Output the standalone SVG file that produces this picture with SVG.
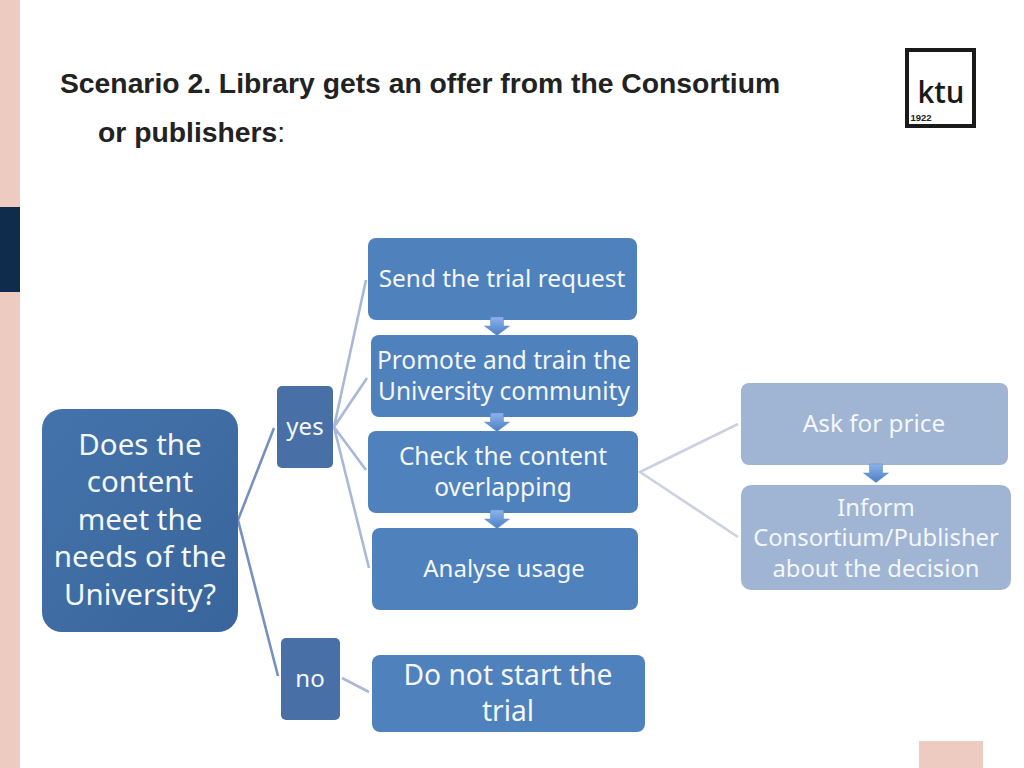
<svg xmlns="http://www.w3.org/2000/svg" width="1024" height="768" viewBox="0 0 1024 768">
<style>
.t{font-family:"Noto Sans","Open Sans",sans-serif;fill:#f4f7fb;text-anchor:middle}
.h{font-family:"Liberation Sans",Arial,sans-serif;font-size:28.3px;fill:#222;font-weight:bold}
.a{fill:#4f81bd}
.d{fill:#4870a6}
.l{fill:#a0b4d4}
.c{stroke-width:2.600;fill:none}
</style>
<defs>
<linearGradient id="ag" x1="0" y1="0" x2="0" y2="1"><stop offset="0" stop-color="#8db3ea"/><stop offset="1" stop-color="#4a7ec4"/></linearGradient>
<linearGradient id="big" x1="0" y1="0" x2="1" y2="1"><stop offset="0" stop-color="#4473ab"/><stop offset="1" stop-color="#38659b"/></linearGradient>
<path id="arr" d="M-6.500 0H6.500V9H12.500L0 18.500-12.500 9H-6.500Z" fill="url(#ag)" stroke="#5a8ac8" stroke-width="0.5"/>
</defs>
<rect width="1024" height="768" fill="#fff"/>
<g id="decor">
<rect x="0" y="0" width="20" height="768" fill="#eecbc1"/>
<rect x="0" y="207" width="20" height="85" fill="#0f2c4d"/>
<rect x="919" y="741" width="64" height="27" fill="#eecbc1"/>
<rect x="907" y="50" width="67" height="76" fill="none" stroke="#1a1a1a" stroke-width="4"/>
<text x="941" y="103" font-family="'Open Sans','Noto Sans',sans-serif" font-size="31" font-weight="600" fill="#1a1a1a" text-anchor="middle" textLength="47" lengthAdjust="spacingAndGlyphs">ktu</text>
<text x="921" y="120.500" font-family="'Liberation Sans',sans-serif" font-size="9.500" font-weight="bold" fill="#222" text-anchor="middle">1922</text>
</g>
<g id="title">
<text class="h" x="60" y="92.500">Scenario 2. Library gets an offer from the Consortium</text>
<text class="h" x="98" y="142">or publishers<tspan font-weight="normal">:</tspan></text>
</g>
<g id="connectors">
<g class="c" stroke="#7591c0">
<path d="M274 428L238 520L278 676"/>
</g>
<g class="c" stroke="#a9b8d6">
<path d="M366 280L334 427L367 378M334 427L366 470M334 427L369 568"/>
<path d="M342 678L369 692"/>
</g>
<g class="c" stroke="#ccd1e2">
<path d="M738 424L640 472L738 537"/>
</g>
</g>
<g id="n-main"><rect x="42" y="409" width="196" height="223" rx="20" fill="url(#big)"/>
<g class="t" font-size="29.500"><text x="140" y="455">Does the</text><text x="140" y="492">content</text><text x="140" y="530">meet the</text><text x="140" y="567">needs of the</text><text x="140" y="605">University?</text></g></g>
<g id="n-yes"><rect x="277" y="386" width="56" height="82" rx="5" class="d"/><text class="t" font-size="24" x="305" y="435">yes</text></g>
<g id="n-no"><rect x="281" y="638" width="59" height="82" rx="5" class="d"/><text class="t" font-size="24" x="310" y="687">no</text></g>
<g id="n-send"><rect x="368" y="238" width="269" height="82" rx="8" class="a"/><text class="t" font-size="24.400" x="502" y="287">Send the trial request</text></g>
<g id="n-promote"><rect x="371" y="335" width="267" height="82" rx="8" class="a"/><g class="t" font-size="24.500"><text x="504" y="369">Promote and train the</text><text x="504" y="400">University community</text></g></g>
<g id="n-check"><rect x="368" y="431" width="270" height="82" rx="8" class="a"/><g class="t" font-size="24.500"><text x="503" y="465">Check the content</text><text x="503" y="496">overlapping</text></g></g>
<g id="n-usage"><rect x="372" y="528" width="266" height="82" rx="8" class="a"/><text class="t" font-size="24" x="504" y="577">Analyse usage</text></g>
<g id="n-donot"><rect x="372" y="655" width="273" height="77" rx="8" class="a"/><g class="t" font-size="28.200"><text x="508" y="685">Do not start the</text><text x="508" y="721">trial</text></g></g>
<g id="n-price"><rect x="741" y="383" width="267" height="82" rx="8" class="l"/><text class="t" font-size="24.300" x="874" y="432">Ask for price</text></g>
<g id="n-inform"><rect x="741" y="485" width="270" height="105" rx="10" class="l"/><g class="t" font-size="23.800"><text x="876" y="516">Inform</text><text x="876" y="546">Consortium/Publisher</text><text x="876" y="577">about the decision</text></g></g>
<g id="arrows">
<use href="#arr" x="497" y="317"/>
<use href="#arr" x="497" y="413"/>
<use href="#arr" x="497" y="510"/>
<use href="#arr" x="876" y="464"/>
</g>
</svg>
